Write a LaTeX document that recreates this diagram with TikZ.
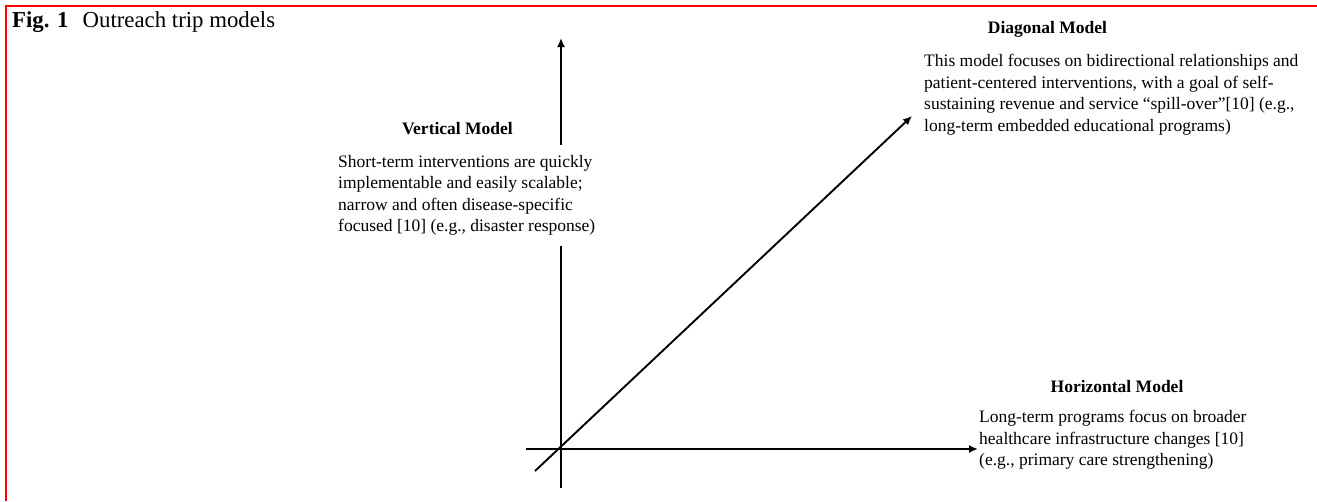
\documentclass[tikz,border=0pt]{standalone}
\usepackage{fontspec}
\setmainfont{Liberation Serif}
\usetikzlibrary{arrows.meta}

\begin{document}
\begin{tikzpicture}[x=1pt, y=-1pt, >={Latex[length=9pt,width=8pt]},
    axis/.style={line width=1.9pt},
    head/.style={anchor=base, inner sep=0pt, font=\fontsize{17.5}{21.5}\selectfont\bfseries},
    para/.style={anchor=north west, align=left, inner sep=0pt, font=\fontsize{17.5}{21.5}\selectfont}]
    \useasboundingbox (0,0) rectangle (1317,501);

    % frame
    \draw[red, line width=2.2pt] (5.8,501) -- (5.8,5.8) -- (1317,5.8);
    \node[anchor=base west, inner sep=0pt, font=\fontsize{22.8}{27}\selectfont] (fig) at (12,27)
        {\textbf{Fig. 1}\hspace{0.62em}Outreach trip models};

    % axes
    \coordinate (vbot) at (561,488);
    \coordinate (vtop) at (561,38);
    \coordinate (hleft) at (526,449);
    \coordinate (hright) at (978,449);
    \coordinate (dlow) at (535,471);
    \coordinate (dtip) at (912,116);
    \draw[axis, ->] (vbot) -- (vtop);
    \draw[axis, ->] (hleft) -- (hright);
    \draw[axis, ->] (dlow) -- (dtip);

    % vertical
    \node[head] (vhead) at (457.5,134) {Vertical Model};
    \node[para, fill=white, inner ysep=10pt] (vtext) at (338,145)
        {Short-term interventions are quickly\\
         implementable and easily scalable;\\
         narrow and often disease-specific\\
         focused [10] (e.g., disaster response)};

    % diagonal
    \node[head] (dhead) at (1047.5,33) {Diagonal Model};
    \node[para] (dtext) at (924,54)
        {This model focuses on bidirectional relationships and\\
         patient-centered interventions, with a goal of self-\\
         sustaining revenue and service ``spill-over''[10] (e.g.,\\
         long-term embedded educational programs)};

    % horizontal
    \node[head] (hhead) at (1117,392) {Horizontal Model};
    \node[para] (htext) at (979,410)
        {Long-term programs focus on broader\\
         healthcare infrastructure changes [10]\\
         (e.g., primary care strengthening)};
\end{tikzpicture}
\end{document}
